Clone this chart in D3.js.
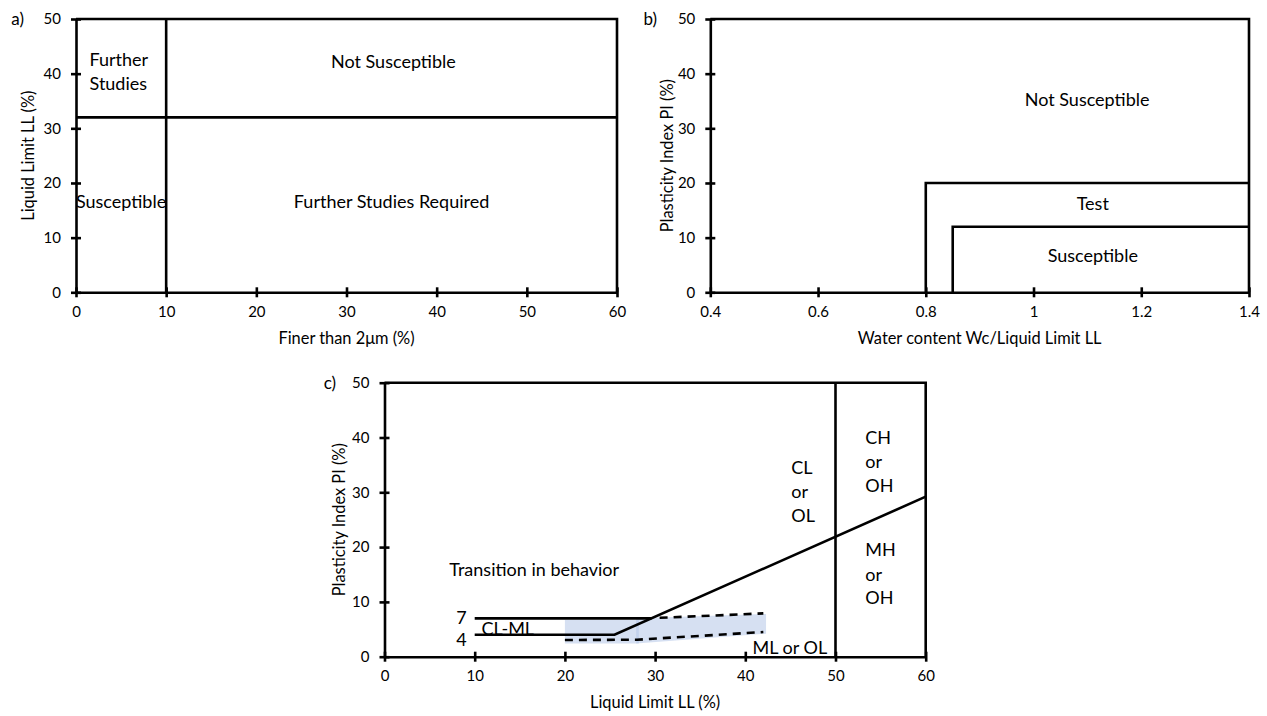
<!DOCTYPE html>
<html>
<head>
<meta charset="utf-8">
<script src="https://cdn.jsdelivr.net/npm/d3@7"></script>
<style>
  html, body { margin: 0; padding: 0; background: #fff; }
  text { font-family: Lato, "Open Sans", sans-serif; fill: #000; }
</style>
</head>
<body>
<svg id="chart" width="1267" height="716"></svg>
<script>
// ---------- DATA ----------
// Panel a: Finer than 2um (%) vs Liquid Limit LL (%)
const aXTicks = [0, 10, 20, 30, 40, 50, 60];
const aYTicks = [0, 10, 20, 30, 40, 50];
const aFinesLimit = [[10, 0], [10, 50]];
const aLLLimit = [[0, 32], [60, 32]];
const aFrame = [[0, 50], [60, 50], [60, 0]];
const aLabels = [
  {text: "Further", x: 1.5, y: 41.4, anchor: "start"},
  {text: "Studies", x: 1.5, y: 37.0, anchor: "start"},
  {text: "Susceptible", x: 5, y: 15.5, anchor: "middle"},
  {text: "Further Studies Required", x: 35.0, y: 15.5, anchor: "middle"},
  {text: "Not Susceptible", x: 35.2, y: 41.0, anchor: "middle"}
];

// Panel b: Water content Wc / Liquid Limit LL vs Plasticity Index PI (%)
const bXTicks = [0.4, 0.6, 0.8, 1.0, 1.2, 1.4];
const bYTicks = [0, 10, 20, 30, 40, 50];
const bTestBoundary = [[0.8, 0], [0.8, 20], [1.4, 20]];
const bSusceptibleBoundary = [[0.85, 0], [0.85, 12], [1.4, 12]];
const bFrame = [[0.4, 50], [1.4, 50], [1.4, 0]];
const bLabels = [
  {text: "Not Susceptible", x: 1.0995, y: 34.0, anchor: "middle"},
  {text: "Test", x: 1.11, y: 15.0, anchor: "middle"},
  {text: "Susceptible", x: 1.11, y: 5.5, anchor: "middle"}
];

// Panel c: Liquid Limit LL (%) vs Plasticity Index PI (%)
const cXTicks = [0, 10, 20, 30, 40, 50, 60];
const cYTicks = [0, 10, 20, 30, 40, 50];
const cFrame = [[0, 50], [60, 50], [60, 0]];
const cLL50 = [[50, 0], [50, 50]];
const cALine = [[10, 4], [25.5, 4], [60, 29.2]];
const cLine7 = [[10, 7], [29.6, 7]];
const cDashUpper = [[30.5, 7.1], [42, 7.9]];
const cDashLower = [[20, 3.05], [28, 3.1], [42, 4.5]];
const cShadeLeft = [[20, 6.7], [28.2, 6.7], [28.2, 2.4], [20, 2.4]];
const cShadeRight = [[27.9, 7.0], [42.3, 7.8], [42.3, 4.2], [27.9, 2.4]];
const cLabels = [
  {text: "Transition in behavior", x: 16.6, y: 14.8, anchor: "middle"},
  {text: "7", x: 9.1, y: 5.9, anchor: "end"},
  {text: "4", x: 9.1, y: 1.95, anchor: "end"},
  {text: "CL-ML", x: 10.75, y: 4.0, anchor: "start"},
  {text: "ML or OL", x: 40.8, y: 0.45, anchor: "start"},
  {text: "CL", x: 45.1, y: 33.3, anchor: "start"},
  {text: "or", x: 45.1, y: 28.9, anchor: "start"},
  {text: "OL", x: 45.1, y: 24.5, anchor: "start"},
  {text: "CH", x: 53.3, y: 38.8, anchor: "start"},
  {text: "or", x: 53.3, y: 34.4, anchor: "start"},
  {text: "OH", x: 53.3, y: 30.0, anchor: "start"},
  {text: "MH", x: 53.3, y: 18.3, anchor: "start"},
  {text: "or", x: 53.3, y: 13.9, anchor: "start"},
  {text: "OH", x: 53.3, y: 9.6, anchor: "start"}
];

// ---------- DRAWING ----------
const svg = d3.select("#chart");
svg.append("rect").attr("width", 1267).attr("height", 716).attr("fill", "#fff");

const LW = 2.6;
const TICK_FS = 15, TITLE_FS = 16.4, LABEL_FS = 18;

function panel(opts) {
  const x = d3.scaleLinear().domain(opts.xDomain).range(opts.xRange);
  const y = d3.scaleLinear().domain(opts.yDomain).range(opts.yRange);
  const g = svg.append("g");
  const line = d3.line().x(d => x(d[0])).y(d => y(d[1]));

  // shaded areas first
  (opts.shades || []).forEach(s => {
    g.append("path").attr("d", line(s) + "Z")
      .attr("fill", "rgb(180,199,231)").attr("fill-opacity", 0.55).attr("stroke", "none");
  });

  // axes
  const xAxis = g.append("g").attr("transform", `translate(0,${opts.yRange[0]})`)
    .call(d3.axisBottom(x).tickValues(opts.xTicks).tickSizeInner(5).tickSizeOuter(0)
      .tickPadding(9).tickFormat(d => String(+d.toFixed(2))));
  xAxis.selectAll(".tick line").attr("y1", -5).attr("y2", 5);
  const yAxis = g.append("g").attr("transform", `translate(${opts.xRange[0]},0)`)
    .call(d3.axisLeft(y).tickValues(opts.yTicks).tickSizeInner(5).tickSizeOuter(0)
      .tickPadding(10).tickFormat(d => String(d)));
  yAxis.selectAll(".tick line").attr("x1", 5).attr("x2", -5);
  [xAxis, yAxis].forEach(a => {
    a.select(".domain").attr("stroke", "#000").attr("stroke-width", LW);
    a.selectAll(".tick line").attr("stroke", "#000").attr("stroke-width", LW);
    a.selectAll(".tick text").attr("font-size", TICK_FS).attr("font-family", "Lato").attr("fill", "#000");
  });

  // lines
  opts.lines.forEach(l => {
    g.append("path").attr("d", line(l.pts)).attr("fill", "none")
      .attr("stroke", "#000").attr("stroke-width", LW)
      .attr("stroke-dasharray", l.dash || null)
      .attr("stroke-linejoin", "miter").attr("stroke-linecap", "butt");
  });

  // region labels
  opts.labels.forEach(t => {
    g.append("text").attr("x", x(t.x)).attr("y", y(t.y))
      .attr("text-anchor", t.anchor).attr("font-size", LABEL_FS).text(t.text);
  });

  // axis titles
  g.append("text").attr("x", (opts.xRange[0] + opts.xRange[1]) / 2).attr("y", opts.xTitleY)
    .attr("text-anchor", "middle").attr("font-size", TITLE_FS).text(opts.xTitle);
  const ym = (opts.yRange[0] + opts.yRange[1]) / 2;
  g.append("text").attr("transform", `translate(${opts.yTitleX},${ym}) rotate(-90)`)
    .attr("text-anchor", "middle").attr("font-size", TITLE_FS).text(opts.yTitle);

  // panel letter
  g.append("text").attr("x", opts.letterX).attr("y", opts.yRange[1] + 6)
    .attr("text-anchor", "end").attr("font-size", 17).text(opts.letter);
}

panel({
  xDomain: [0, 60], xRange: [76, 617], yDomain: [0, 50], yRange: [292.3, 19],
  xTicks: aXTicks, yTicks: aYTicks,
  lines: [{pts: aFinesLimit}, {pts: aLLLimit}, {pts: aFrame}],
  labels: aLabels,
  xTitle: "Finer than 2μm (%)", xTitleY: 344, yTitle: "Liquid Limit LL (%)", yTitleX: 34,
  letter: "a)", letterX: 24
});

panel({
  xDomain: [0.4, 1.4], xRange: [710.3, 1249], yDomain: [0, 50], yRange: [292.3, 19],
  xTicks: bXTicks, yTicks: bYTicks,
  lines: [{pts: bTestBoundary}, {pts: bSusceptibleBoundary}, {pts: bFrame}],
  labels: bLabels,
  xTitle: "Water content Wc/Liquid Limit LL", xTitleY: 344, yTitle: "Plasticity Index PI (%)", yTitleX: 673,
  letter: "b)", letterX: 657
});

panel({
  xDomain: [0, 60], xRange: [384.5, 925.7], yDomain: [0, 50], yRange: [656.7, 382.7],
  xTicks: cXTicks, yTicks: cYTicks,
  shades: [cShadeLeft, cShadeRight],
  lines: [{pts: cFrame}, {pts: cLL50}, {pts: cALine}, {pts: cLine7},
          {pts: cDashUpper, dash: "8,6"}, {pts: cDashLower, dash: "8,6"}],
  labels: cLabels,
  xTitle: "Liquid Limit LL (%)", xTitleY: 708, yTitle: "Plasticity Index PI (%)", yTitleX: 345,
  letter: "c)", letterX: 336
});
</script>
</body>
</html>
